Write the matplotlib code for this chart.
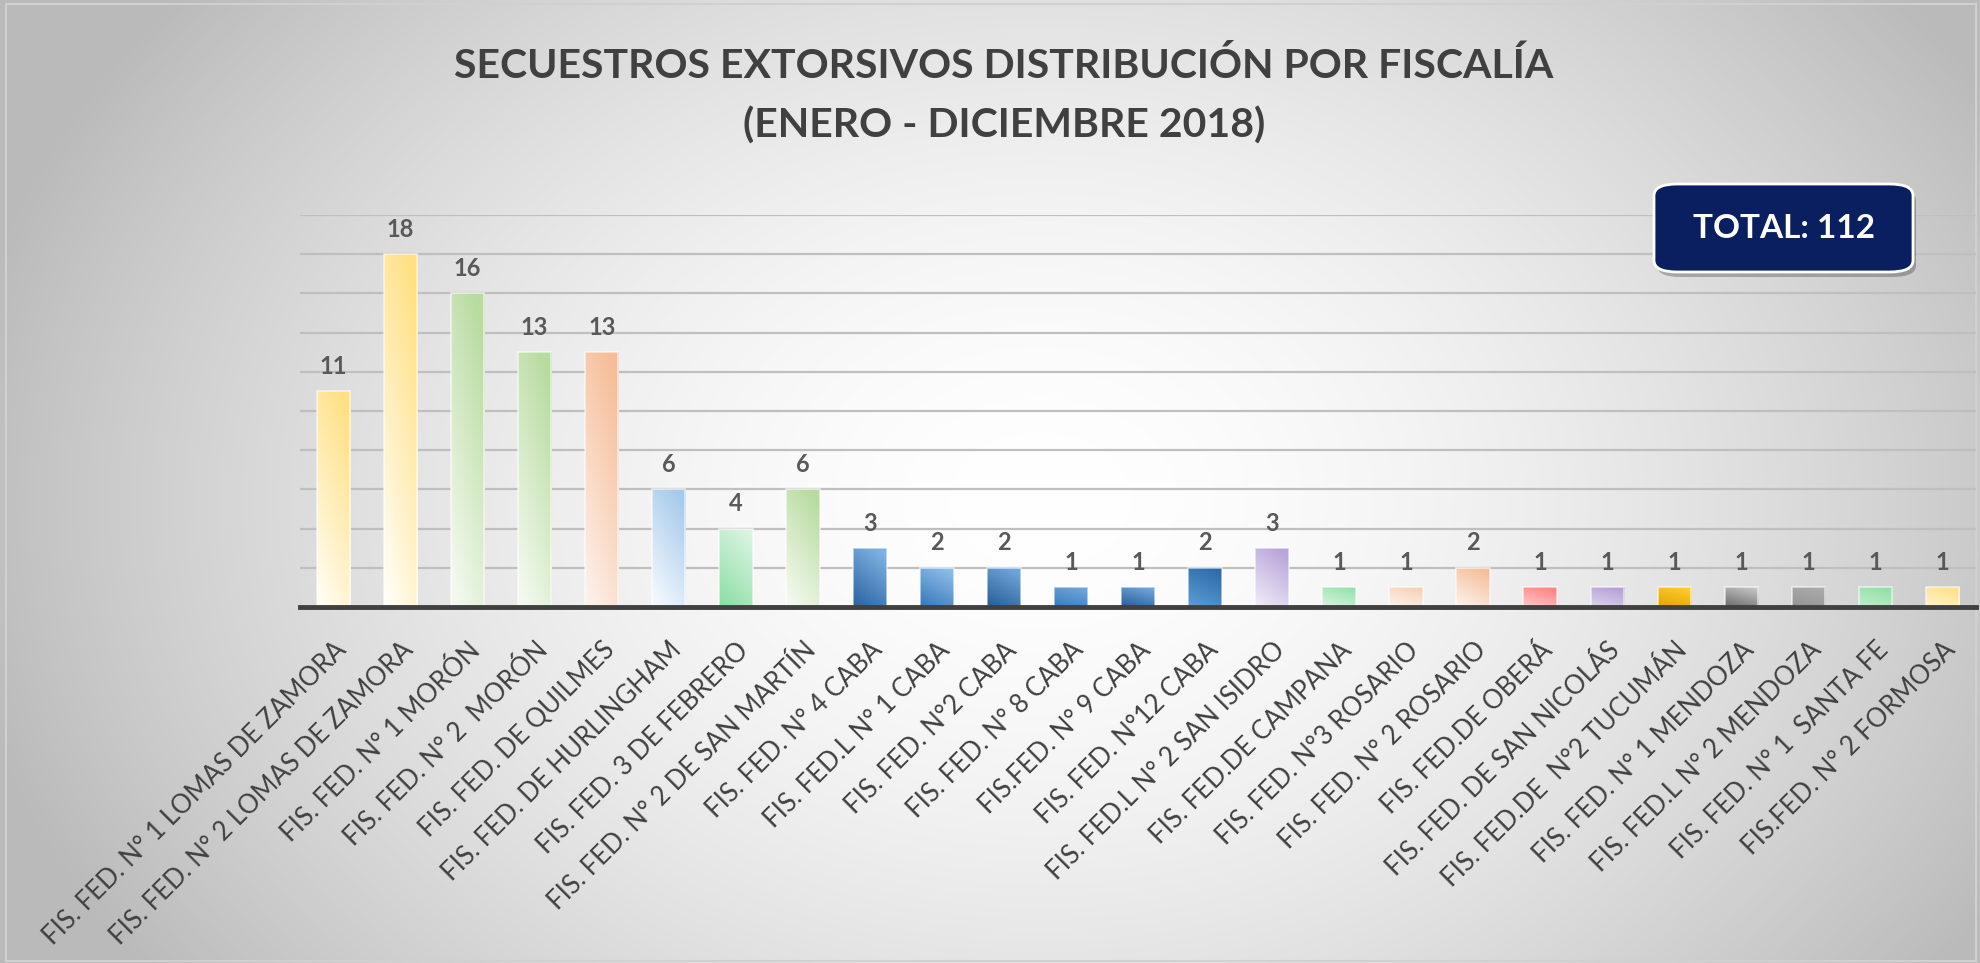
import numpy as np
import matplotlib
matplotlib.use("Agg")
import matplotlib.pyplot as plt
from matplotlib.patches import FancyBboxPatch
from matplotlib.colors import to_rgb

# datos
fiscalias = [
    "FIS. FED. N° 1 LOMAS DE ZAMORA",
    "FIS. FED. N° 2 LOMAS DE ZAMORA",
    "FIS. FED. N° 1 MORÓN",
    "FIS. FED. N° 2  MORÓN",
    "FIS. FED. DE QUILMES",
    "FIS. FED. DE HURLINGHAM",
    "FIS. FED. 3 DE FEBRERO",
    "FIS. FED. N° 2 DE SAN MARTÍN",
    "FIS. FED. N° 4 CABA",
    "FIS. FED.L N° 1 CABA",
    "FIS. FED. N°2 CABA",
    "FIS. FED. N° 8 CABA",
    "FIS.FED. N° 9 CABA",
    "FIS. FED. N°12 CABA",
    "FIS. FED.L N° 2 SAN ISIDRO",
    "FIS. FED.DE CAMPANA",
    "FIS. FED. N°3 ROSARIO",
    "FIS. FED. N° 2 ROSARIO",
    "FIS. FED.DE OBERÁ",
    "FIS. FED. DE SAN NICOLÁS",
    "FIS. FED.DE  N°2 TUCUMÁN",
    "FIS. FED. N° 1 MENDOZA",
    "FIS. FED.L N° 2 MENDOZA",
    "FIS. FED. N° 1  SANTA FE",
    "FIS.FED. N° 2 FORMOSA",
]
secuestros = [11, 18, 16, 13, 13, 6, 4, 6, 3, 2, 2, 1, 1, 2, 3, 1, 1, 2, 1, 1, 1, 1, 1, 1, 1]

# colores (inicio abajo-izquierda, fin arriba-derecha)
colores = [
    ("#FFFDF4", "#FFE083"), ("#FFFDF4", "#FFE083"),
    ("#F5FAF1", "#B8DBA0"), ("#F5FAF1", "#B8DBA0"),
    ("#FDF1EA", "#F6BD98"), ("#F5F9FE", "#A6CAEB"),
    ("#8EDFA6", "#D9F4E1"), ("#F5FAF1", "#B8DBA0"),
    ("#2C66A4", "#7FB2E2"), ("#3A7BBC", "#8FBDE8"),
    ("#2A6099", "#70A7DB"), ("#3C7DBD", "#6FA5DA"),
    ("#2A6099", "#6FA6DA"), ("#5C9BD6", "#2E6BA8"),
    ("#EFEAF7", "#B8A5DA"), ("#D7F3DF", "#98E2AD"),
    ("#FDF4EE", "#F8D0B6"), ("#FDF1EA", "#F5BE98"),
    ("#FFC8C8", "#FF8383"), ("#DCD2EC", "#B3A0D6"),
    ("#E1A500", "#FFCB30"), ("#6E6E6E", "#C4C4C4"),
    ("#959595", "#ABABAB"), ("#BDEEC9", "#93DEA8"),
    ("#FFF2C8", "#FFE08A"),
]

W, H = 1980, 963
fig = plt.figure(figsize=(W / 100, H / 100), dpi=100)

# fondo con degradado radial
bg = fig.add_axes([0, 0, 1, 1], zorder=-2)
yy, xx = np.mgrid[0:H, 0:W]
t = np.sqrt(((xx - 1040) / 1100) ** 2 + ((yy - 500) / 820) ** 2)
t = np.clip(t, 0, 1) ** 1.7
c0 = np.array([1.0, 1.0, 1.0])
c1 = np.array(to_rgb("#bababa"))
img = c0[None, None, :] * (1 - t[..., None]) + c1[None, None, :] * t[..., None]
bg.imshow(img, extent=[0, W, H, 0], aspect="auto")
bg.set_xlim(0, W)
bg.set_ylim(H, 0)
bg.axis("off")
bg.add_patch(plt.Rectangle((6, 4), W - 10, H - 6, fill=False, ec="#d0d0d0", lw=1.5))

ax = fig.add_axes([300 / W, (H - 607) / H, (1976 - 300) / W, (607 - 215) / H])
ax.patch.set_alpha(0)
x = np.arange(len(secuestros))
barras = ax.bar(x, secuestros, width=0.5, color="none", edgecolor=(1, 1, 1, 0.6), lw=1.2, zorder=3)

gy, gx = np.mgrid[0:100, 0:20]
for b, (ca, cb) in zip(barras, colores):
    tt = np.clip(0.8 * (1 - gy / 99) + 0.35 * (gx / 19) - 0.05, 0, 1)
    a, bcol = np.array(to_rgb(ca)), np.array(to_rgb(cb))
    grad = a * (1 - tt[..., None]) + bcol * tt[..., None]
    x0, y0 = b.get_x(), b.get_y()
    im = ax.imshow(grad, extent=[x0, x0 + b.get_width(), y0, y0 + b.get_height()],
                   aspect="auto", zorder=2, interpolation="bilinear")
    im.set_clip_path(b)

for xi, v in zip(x, secuestros):
    ax.annotate(str(v), (xi, v), xytext=(0, 18), textcoords="offset points",
                ha="center", va="center", fontsize=17, fontweight="bold",
                color="#595959", family="Lato")

ax.set_xlim(-0.5, len(secuestros) - 0.5)
ax.set_ylim(0, 20)
ax.set_yticks(np.arange(2, 21, 2))
ax.yaxis.grid(True, color="#bfbfbf", lw=1.6)
ax.set_axisbelow(True)
ax.tick_params(axis="y", left=False, labelleft=False)
ax.tick_params(axis="x", length=0, pad=22)
for s in ["left", "right", "top"]:
    ax.spines[s].set_visible(False)
ax.spines["bottom"].set_color("#404040")
ax.spines["bottom"].set_linewidth(3.5)
ax.spines["bottom"].set_zorder(4)
ax.set_xticks(x)
ax.set_xticklabels(fiscalias, rotation=45, ha="right", va="top", rotation_mode="anchor",
                   fontsize=18.5, color="#404040", family="Lato")

fig.text(1004 / W, 1 - 66 / H, "SECUESTROS EXTORSIVOS DISTRIBUCIÓN POR FISCALÍA",
         ha="center", va="center", fontsize=29.5, fontweight="bold", color="#404040", family="Lato")
fig.text(1004 / W, 1 - 126 / H, "(ENERO - DICIEMBRE 2018)",
         ha="center", va="center", fontsize=29.5, fontweight="bold", color="#404040", family="Lato")

# recuadro total
bx, by, bw, bh = 1654 / W, 1 - 272 / H, 259 / W, 88 / H
sombra = FancyBboxPatch((bx + 3 / W, by - 5 / H), bw, bh, boxstyle="round,pad=0,rounding_size=0.012",
                        transform=fig.transFigure, fc="#000000", alpha=0.25, ec="none", zorder=5)
caja = FancyBboxPatch((bx, by), bw, bh, boxstyle="round,pad=0,rounding_size=0.012",
                      transform=fig.transFigure, fc="#0A1F5F", ec="white", lw=2, zorder=6)
fig.patches.extend([sombra, caja])
fig.text(bx + bw / 2, by + bh / 2, "TOTAL: " + str(sum(secuestros)), ha="center", va="center",
         fontsize=24, fontweight="bold", color="white", family="Lato", zorder=7)

fig.savefig("out.png", dpi=100)
